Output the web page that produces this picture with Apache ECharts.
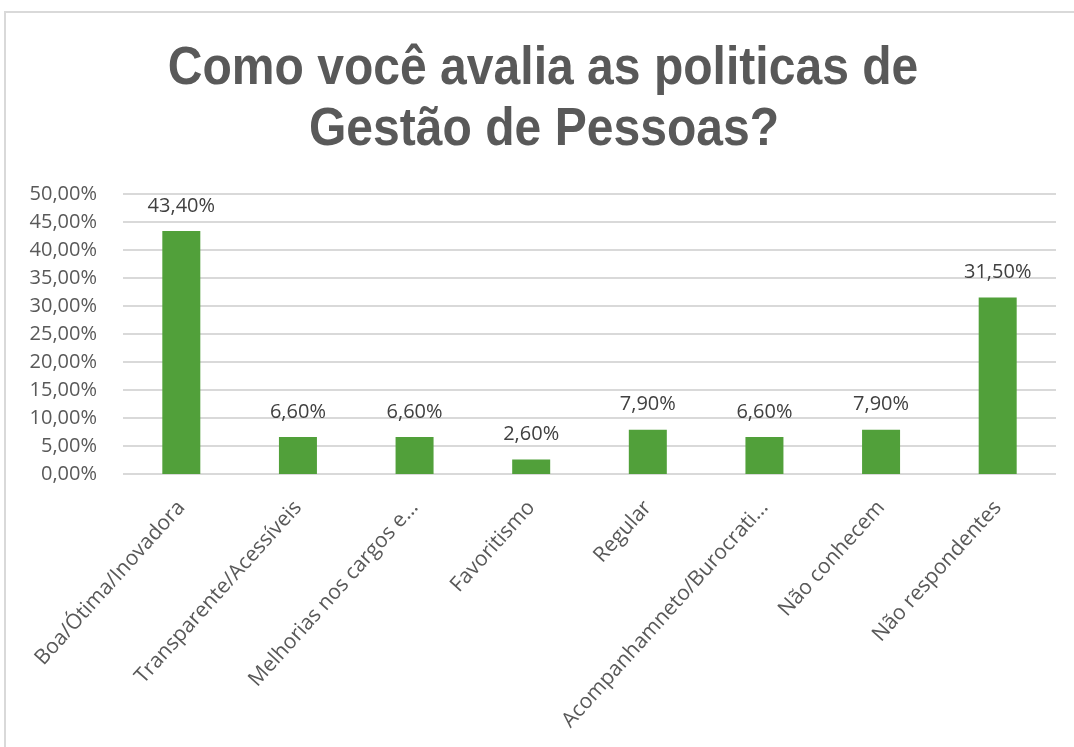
<!DOCTYPE html>
<html><head><meta charset="utf-8">
<script src="https://cdn.jsdelivr.net/npm/echarts@6/dist/echarts.min.js"></script>
<style>html,body{margin:0;padding:0;background:#fff}#c{width:1074px;height:747px}</style>
</head><body><div id="c"></div>
<script>
const categories = ['Boa/Ótima/Inovadora','Transparente/Acessíveis','Melhorias nos cargos e...','Favoritismo','Regular','Acompanhamneto/Burocrati...','Não conhecem','Não respondentes'];
const values = [43.4, 6.6, 6.6, 2.6, 7.9, 6.6, 7.9, 31.5];
const titleLines = ['Como você avalia as politicas de', 'Gestão de Pessoas?'];
const fmt = v => v.toFixed(2).replace('.', ',') + '%';
const chart = echarts.init(document.getElementById('c'), null, {renderer:'canvas'});
const titleFont = 'bold 54px "Liberation Sans", Arial, sans-serif';
chart.setOption({
  backgroundColor:'#fff',
  animation:false,
  graphic:[
    {type:'rect', shape:{x:5,y:12,width:1080,height:740}, style:{fill:'none', stroke:'#d9d9d9', lineWidth:2}, silent:true},
    {type:'text', x:543, y:96, scaleX:0.89, silent:true,
      style:{text:titleLines[0], font:titleFont, fill:'#595959', textAlign:'center', textVerticalAlign:'bottom'}},
    {type:'text', x:544, y:157, scaleX:0.89, silent:true,
      style:{text:titleLines[1], font:titleFont, fill:'#595959', textAlign:'center', textVerticalAlign:'bottom'}}
  ],
  grid:{ left:123, right:18, top:194, bottom:273, containLabel:false },
  xAxis:{ type:'category', data:categories,
    axisLine:{show:false}, axisTick:{show:false},
    axisLabel:{ rotate:48, interval:0, color:'#595959', fontSize:21, fontFamily:'"Open Sans",Lato,sans-serif', margin:30 } },
  yAxis:{ type:'value', min:0, max:50, interval:5,
    axisLabel:{ formatter: v => fmt(v), color:'#595959', fontSize:20, fontFamily:'"Open Sans",Lato,sans-serif', margin:26 },
    splitLine:{ lineStyle:{ color:'#d9d9d9', width:2 } },
    axisLine:{show:false}, axisTick:{show:false} },
  series:[{ type:'bar', data:values, barWidth:38, itemStyle:{color:'#51a03a'},
    label:{ show:true, position:'top', distance:15, formatter: p => fmt(p.value), color:'#404040', fontSize:20, fontFamily:'"Open Sans",Lato,sans-serif' } }]
});
</script></body></html>
